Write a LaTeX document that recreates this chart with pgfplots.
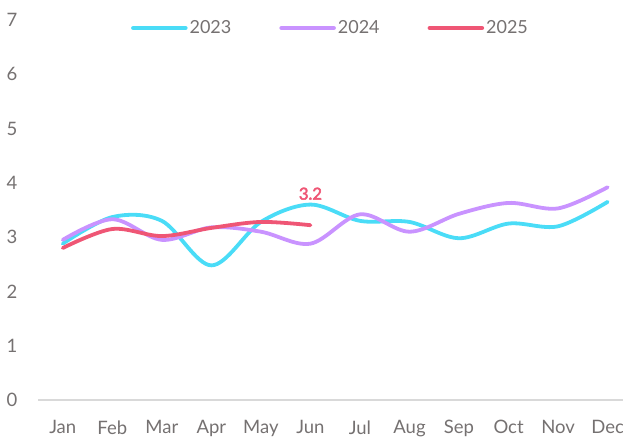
\documentclass[border=0pt]{standalone}
\usepackage{pgfplots}
\pgfplotsset{compat=1.18}
\usepackage{fontspec}
\setmainfont{Lato}
\newfontfamily\lblfont{Lato}[FakeBold=3]
\definecolor{c23}{HTML}{4ADCF7}
\definecolor{c24}{HTML}{C993FF}
\definecolor{c25}{HTML}{EF5675}
\definecolor{txt}{HTML}{757171}
\definecolor{axl}{HTML}{D9D9D9}
\begin{document}
\begin{tikzpicture}
\begin{axis}[
  scale only axis,
  width=585pt, height=380pt,
  xmin=-0.5, xmax=11.31,
  ymin=0, ymax=7,
  axis line style={draw=none},
  xtick={0,...,11},
  xticklabels={Jan,Feb,Mar,Apr,May,Jun,Jul,Aug,Sep,Oct,Nov,Dec},
  ytick={0,...,7},
  major tick length=0pt,
  tick style={draw=none},
  tick label style={font=\fontsize{18.5}{18.5}\selectfont, text=txt},
  /pgf/number format/assume math mode=true,
  x tick label style={anchor=north, yshift=-17pt},
  y tick label style={anchor=east, xshift=-17pt},
  legend style={at={(0.5,0.979)}, anchor=center, draw=none, fill=none,
    font=\fontsize{18}{18}\selectfont, text=txt,
    legend columns=3,
    /tikz/every even column/.append style={column sep=46pt}},
  legend image code/.code={\draw[#1, line width=4.5pt, line cap=round] (0pt,0pt) -- (52pt,0pt);},
  every axis plot/.append style={line width=3.8pt, smooth, tension=0.55, line cap=round, no markers},
  clip=false,
]
\draw[axl, line width=1.8pt] (axis cs:-0.5,0) -- (axis cs:11.31,0);
\addplot[c23] coordinates {(0,2.88) (1,3.37) (2,3.3) (3,2.48) (4,3.28) (5,3.6) (6,3.3) (7,3.28) (8,2.98) (9,3.25) (10,3.2) (11,3.65)};
\addlegendentry{2023}
\addplot[c24] coordinates {(0,2.95) (1,3.33) (2,2.95) (3,3.18) (4,3.1) (5,2.88) (6,3.42) (7,3.1) (8,3.43) (9,3.63) (10,3.53) (11,3.92)};
\addlegendentry{2024}
\addplot[c25] coordinates {(0,2.8) (1,3.15) (2,3.02) (3,3.17) (4,3.28) (5,3.22)};
\addlegendentry{2025}
\node[text=c25, font=\fontsize{16.5}{16.5}\lblfont] at (axis cs:5,3.8) {3.2};
\end{axis}
\pgfresetboundingbox
\path (current axis.south west) ++(-38pt,-39pt) coordinate (bl);
\path (current axis.south west) ++(585pt,400pt) coordinate (tr);
\useasboundingbox (bl) rectangle (tr);
\end{tikzpicture}
\end{document}
